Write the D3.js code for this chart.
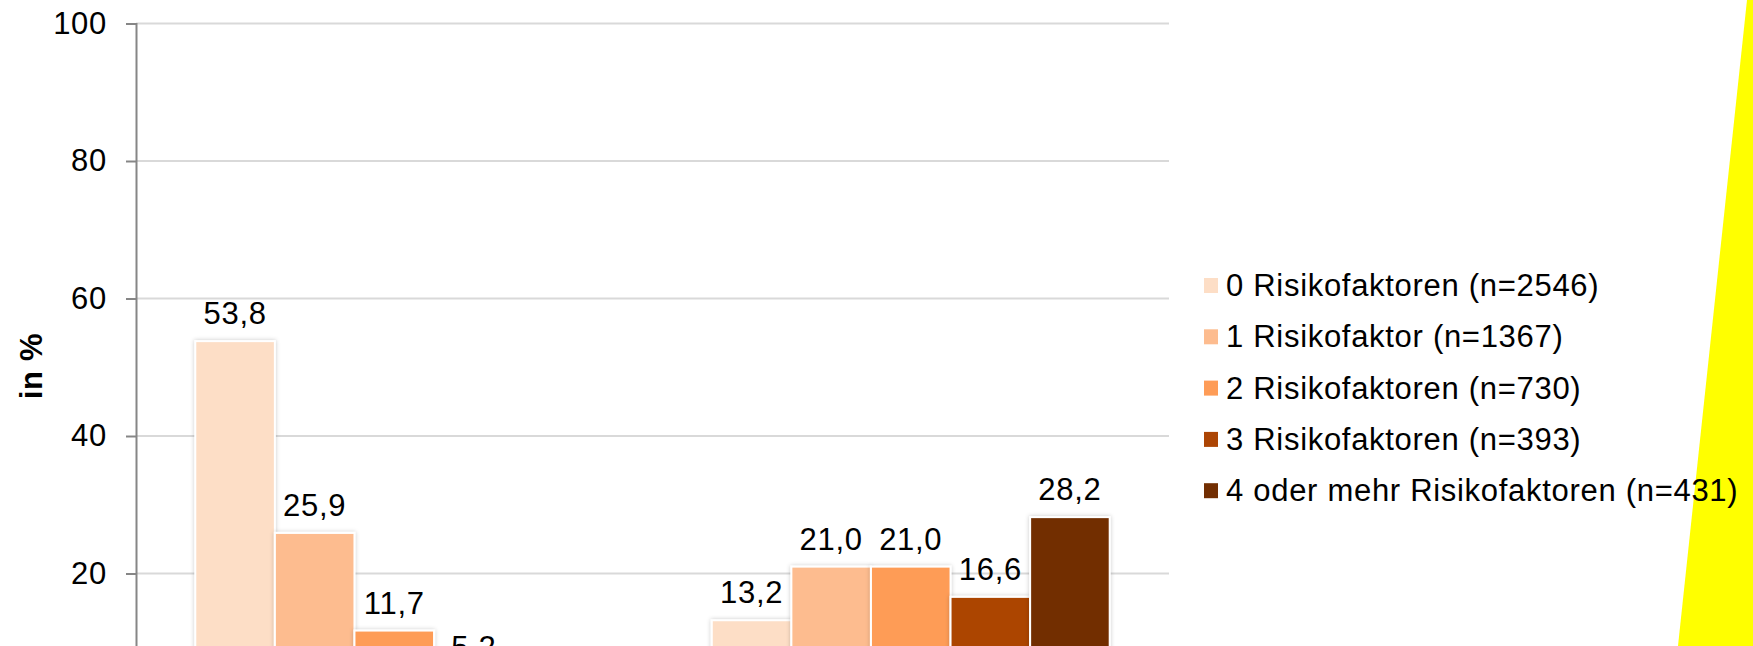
<!DOCTYPE html>
<html>
<head>
<meta charset="utf-8">
<script src="https://cdn.jsdelivr.net/npm/d3@7"></script>
<style>
  html, body { margin: 0; padding: 0; background: #fff; }
  svg { display: block; font-family: "Liberation Sans", Arial, sans-serif; }
  .lbl { font-size: 31px; letter-spacing: 0.7px; }
</style>
</head>
<body>
<svg id="chart" width="1753" height="646"></svg>
<script>
// Chart data
const categories = ["Gruppe 1", "Gruppe 2"];
const seriesNames = [
  "0 Risikofaktoren (n=2546)",
  "1 Risikofaktor (n=1367)",
  "2 Risikofaktoren (n=730)",
  "3 Risikofaktoren (n=393)",
  "4 oder mehr Risikofaktoren (n=431)"
];
const seriesColors = ["#FDDEC6", "#FDBC8F", "#FE9C57", "#AC4504", "#722E02"];
const group1Values = [53.8, 25.9, 11.7, 5.2, 3.4];
const group2Values = [13.2, 21.0, 21.0, 16.6, 28.2];
const yTicks = [0, 20, 40, 60, 80, 100];
const yAxisTitle = "in %";

const values = [group1Values, group2Values];
const fmt = v => d3.format(".1f")(v).replace(".", ",");

const svg = d3.select("#chart");
const W = 1753, H = 646;

// Background accent shape on the right edge
svg.append("polygon")
  .attr("points", `1747,0 ${W},0 ${W},${H} 1678,${H}`)
  .attr("fill", "#FFFF00");

// Soft shadow for bars
const defs = svg.append("defs");
const f = defs.append("filter").attr("id", "shadow")
  .attr("x", "-10%").attr("y", "-10%").attr("width", "120%").attr("height", "120%");
f.append("feDropShadow").attr("dx", 0).attr("dy", 0)
  .attr("stdDeviation", 2).attr("flood-color", "#000").attr("flood-opacity", 0.22);

// Scales
const plotLeft = 136, plotRight = 1169;
const y = d3.scaleLinear().domain([0, 100]).range([711, 23.5]);
const x0 = d3.scaleBand().domain(categories).range([plotLeft, plotRight]).padding(0);
const x1 = d3.scaleBand().domain(d3.range(seriesNames.length))
  .range([0, x0.bandwidth()]).paddingInner(0).paddingOuter(0.745);
const color = d3.scaleOrdinal().domain(d3.range(seriesNames.length)).range(seriesColors);

// Gridlines
svg.append("g").selectAll("line")
  .data(yTicks.filter(t => t > 0))
  .join("line")
  .attr("x1", plotLeft).attr("x2", plotRight)
  .attr("y1", d => y(d)).attr("y2", d => y(d))
  .attr("stroke", "#D9D9D9").attr("stroke-width", 2);

// Y axis
const yAxis = svg.append("g")
  .attr("transform", `translate(${plotLeft},0)`)
  .call(d3.axisLeft(y).tickValues(yTicks).tickSize(10).tickPadding(19).tickFormat(d3.format("d")));
yAxis.select(".domain").attr("stroke", "#868686").attr("stroke-width", 2);
yAxis.selectAll(".tick line").attr("stroke", "#868686").attr("stroke-width", 2);
yAxis.selectAll(".tick text")
  .attr("class", "lbl")
  .attr("fill", "#000")
  .style("font-family", "'Liberation Sans', Arial, sans-serif");

// Y axis title
svg.append("text")
  .attr("class", "lbl")
  .attr("transform", "translate(42,366) rotate(-90)")
  .attr("text-anchor", "middle")
  .style("font-weight", "bold")
  .attr("fill", "#000")
  .text(yAxisTitle);

// Bars
const groups = svg.append("g").selectAll("g")
  .data(categories)
  .join("g")
  .attr("transform", d => `translate(${x0(d)},0)`);

groups.selectAll("rect")
  .data((d, gi) => values[gi].map((v, si) => ({ v, si })))
  .join("rect")
  .attr("x", d => x1(d.si))
  .attr("y", d => y(d.v))
  .attr("width", x1.bandwidth())
  .attr("height", d => y(0) - y(d.v))
  .attr("fill", d => color(d.si))
  .attr("stroke", "#fff").attr("stroke-width", 2)
  .attr("filter", "url(#shadow)");

// Value labels
groups.selectAll("text")
  .data((d, gi) => values[gi].map((v, si) => ({ v, si })))
  .join("text")
  .attr("class", "lbl")
  .attr("x", d => x1(d.si) + x1.bandwidth() / 2)
  .attr("y", d => y(d.v) - 17)
  .attr("text-anchor", "middle")
  .attr("fill", "#000")
  .text(d => fmt(d.v));

// Legend
const legend = svg.append("g").attr("transform", "translate(1204,276)");
const rows = legend.selectAll("g")
  .data(seriesNames)
  .join("g")
  .attr("transform", (d, i) => `translate(0,${i * 51.3})`);
rows.append("rect")
  .attr("y", 2)
  .attr("width", 14).attr("height", 15)
  .attr("fill", (d, i) => color(i));
rows.append("text")
  .attr("class", "lbl")
  .attr("x", 22).attr("y", 20)
  .attr("fill", "#000")
  .text(d => d);
</script>
</body>
</html>
